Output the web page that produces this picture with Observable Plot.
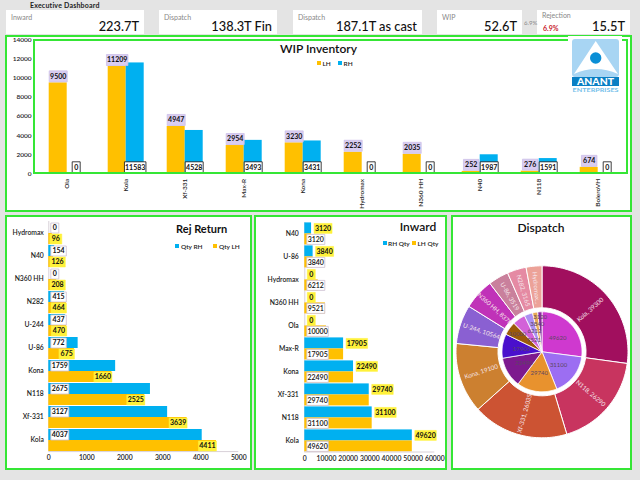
<!DOCTYPE html>
<html><head><meta charset="utf-8">
<style>
html,body{margin:0;padding:0;width:640px;height:480px;overflow:hidden;background:#e4e4e4;font-family:Lato,sans-serif;color:#111}
.abs{position:absolute;box-sizing:border-box}
.panel{background:#fff;border:2px solid #35e635}
.card{background:#fff}
.title{text-align:center;transform:translate(-50%,-50%);white-space:nowrap;font-weight:700;color:#111}
.leg{font-size:6.5px;white-space:nowrap;transform:translateY(-50%);color:#222;font-weight:600}
.sw{width:4px;height:4px}
svg{overflow:visible}
</style>
<script src="https://cdn.jsdelivr.net/npm/d3@7"></script>
<script src="https://cdn.jsdelivr.net/npm/@observablehq/plot@0.6"></script>
</head><body>
<script>
const FONT = "Lato, sans-serif";
const LH = "#ffc000", RH = "#00b0f0";

// KPI strip
const kpiLabels = ["Inward","Dispatch","Dispatch","WIP","Rejection"];
const kpiValues = ["223.7T","138.3T Fin","187.1T as cast","52.6T","15.5T"];
const rejectionPct = "6.9%";

// WIP Inventory
const wipNames = ["Ola","Kola","Xf-331","Max-R","Kona","Hydromax","N360 HH","N40","N118","BoleroVH"];
const wipLH = [9500,11209,4947,2954,3230,2252,2035,252,276,674];
const wipRH = [0,11583,4528,3493,3431,0,0,1987,1591,0];

// Rej Return
const rejNames = ["Hydromax","N40","N360 HH","N282","U-244","U-86","Kona","N118","Xf-331","Kola"];
const rejRH = [0,154,0,415,437,772,1759,2675,3127,4037];
const rejLH = [96,126,208,464,470,675,1660,2525,3639,4411];

// Inward
const inwNames = ["N40","U-86","Hydromax","N360 HH","Ola","Max-R","Kona","Xf-331","N118","Kola"];
const inwRH = [3120,3840,0,0,0,17905,22490,29740,31100,49620];
const inwLH = [3120,3840,6212,9521,10000,17905,22490,29740,31100,49620];

// Dispatch sunburst
const outerNames = ["Kola","N118","Xf-331","Kona","U-244","N360 HH","U-86","N282","Hydromax"];
const outerValues = [39300,26290,26035,19100,10564,8378,5519,5165,4300];
const outerLabels = ["Kola, 39300","N118, 26290","Xf-331, 26035","Kona, 19100","U-244, 10564","N360 HH, 8378","U-86, 3519","N282, 3165","Hydromax..."];
const outerColors = ["#a10f5e","#c8345f","#cc5333","#cc8030","#8a60d2","#c032b8","#c9809c","#e58aa3","#eca298"];
const innerValues = [49620,31100,29740,22490,17905,10000,9521,6212,3840,3120];
const innerColors = ["#cf39cf","#9c6ef2","#e8922e","#7d1a8e","#4a10cc","#9c5a08","#d262d8","#ab90f2","#e8aa55","#8a2aa0"];
const innerLabelRadius = [21,21,21,21,21,30,14,22,28,35];

function div(cls, x, y, w, h, css) {
  const d = document.createElement("div");
  d.className = "abs " + cls;
  d.style.left = x + "px"; d.style.top = y + "px";
  if (w != null) d.style.width = w + "px";
  if (h != null) d.style.height = h + "px";
  if (css) d.style.cssText += css;
  document.body.appendChild(d);
  return d;
}
function text(cls, x, y, s, css) { const d = div(cls, x, y, null, null, css); d.textContent = s; return d; }
function place(svg, x, y) {
  svg.style.position = "absolute"; svg.style.left = x + "px"; svg.style.top = y + "px";
  document.body.appendChild(svg);
}
const boxSymbol = (w, h) => ({draw(c){ c.moveTo(-w/2,-h/2); c.lineTo(w/2,-h/2); c.lineTo(w/2,h/2); c.lineTo(-w/2,h/2); c.closePath(); }});
const digitW = {1:8, 2:12, 3:15.5, 4:18, 5:21.5};
const widthOf = v => digitW[String(v).length];

// label: box + text, split by digit count so each box gets the right width
function labels(data, {x, y, fx, fy, dx = 0, dy = 0, h = 11, fill, stroke, sw = 0.8, font = 7, weight = 700, tfill = "#111"}) {
  const out = [];
  for (const [len, group] of d3.group(data, d => String(d.v).length)) {
    const w = digitW[len];
    const ddx = typeof dx === "function" ? dx(w) : dx;
    out.push(Plot.dot(group, {x, y, fx, fy, dx: ddx, dy, r: 1, symbol: boxSymbol(w, h), fill, stroke, strokeWidth: sw}));
    out.push(Plot.text(group, {x, y, fx, fy, dx: ddx, dy, text: d => String(d.v), fontSize: font, fontWeight: weight, fill: tfill}));
  }
  return out;
}

// Header
text("", 30, 0.5, "Executive Dashboard", "font-size:7px;font-weight:700;color:#222;letter-spacing:.2px");
const cardBoxes = [[6,144],[159,277],[293,422],[437,522],[537,630]];
cardBoxes.forEach(([a,b],i) => {
  div("card", a, 10, b-a, 23.5);
  text("", a+5, i===4 ? 10.5 : 13, kpiLabels[i], "font-size:7px;color:#888");
  text("", 0, 17.5, kpiValues[i], `left:auto;right:${640-b+5}px;font-size:12.8px;font-weight:500;color:#111;white-space:nowrap`);
});
text("", 524, 19, rejectionPct, "font-size:6px;color:#888");
text("", 543, 23.5, rejectionPct, "font-size:7px;font-weight:700;color:#c8202a");

// Panels
div("panel", 5, 35, 627, 176.5);
div("panel", 5, 214.5, 246.5, 255);
div("panel", 254, 214.5, 193, 255);
div("panel", 451, 214.5, 181, 255);

// WIP chart
const wipData = wipNames.flatMap((n,i)=>[{n,s:"LH",v:wipLH[i]},{n,s:"RH",v:wipRH[i]}]);
place(Plot.plot({
  width: 640, height: 177,
  marginLeft: 34.3, marginRight: 11.3, marginTop: 4.3, marginBottom: 38.7,
  style: {background:"transparent", font:`6.5px ${FONT}`, fontWeight:600, color:"#222"},
  fx: {domain: wipNames, padding: 0, label: null, tickRotate: -90, tickSize: 0, tickPadding: 5, axis: "bottom"},
  x: {domain: ["LH","RH"], axis: null, paddingInner: 0, paddingOuter: 0.6},
  y: {domain: [0,14000], ticks: d3.range(0,14001,2000), tickSize: 0, tickPadding: 6, label: null, tickFormat: d=>String(d)},
  color: {domain:["LH","RH"], range:[LH,RH]},
  marks: [
    Plot.barY(wipData, {fx:"n", x:"s", y:"v", fill:"s"}),
    ...labels(wipData.filter(d=>d.s==="LH"), {fx:"n", x:"s", y:"v", dy:-6.5, fill:"#d9cdf1", stroke:"#cbbfe8"}),
    ...labels(wipData.filter(d=>d.s==="RH"), {fx:"n", x:"s", y:()=>0, dy:-6.5, fill:"#fff", stroke:"#111"})
  ]
}), 0, 35);
div("", 33, 39, 595, 135, "border:2px solid #35e635;pointer-events:none");
text("title", 318.5, 47.5, "WIP Inventory", "font-size:12px;font-weight:600");
div("sw", 317, 61, null, null, "background:"+LH);
text("leg", 322.5, 63, "LH");
div("sw", 338, 61, null, null, "background:"+RH);
text("leg", 343.5, 63, "RH");

// Logo
const logo = div("", 568, 36, 54, 60, "background:#fff");
logo.innerHTML = `<svg width="54" height="60" viewBox="0 0 54 60" xmlns="http://www.w3.org/2000/svg">
<rect x="4" y="3" width="47" height="38" rx="3" fill="#a8d5f3"/>
<path d="M27.7 5 L50 38 Q27.7 28 6 38 Z" fill="#fff"/>
<circle cx="27.7" cy="22" r="5.7" fill="#0a8fd6"/>
<rect x="4" y="41" width="47" height="9" fill="#0a7fc4"/>
<text x="27.5" y="49" text-anchor="middle" font-size="9.5" font-weight="900" font-family="Lato" fill="#fff" textLength="37" lengthAdjust="spacingAndGlyphs">ANANT</text>
<text x="27.5" y="56" text-anchor="middle" font-size="5.6" font-weight="700" font-family="Lato" fill="#74c0ea" textLength="46" lengthAdjust="spacingAndGlyphs">ENTERPRISES</text>
</svg>`;

// Horizontal pair chart
function hbars({names, rh, lh, left, top, w, h, ml, mr, mt, mb, xMax, xStep, build, tickPad}) {
  const data = names.flatMap((n,i)=>[{n,s:"RH",v:rh[i]},{n,s:"LH",v:lh[i]}]);
  const baseRow = names[names.length-1];
  place(Plot.plot({
    width: w, height: h, marginLeft: ml, marginRight: mr, marginTop: mt, marginBottom: mb,
    style: {background:"transparent", font:`6.8px ${FONT}`, fontWeight:600, color:"#222"},
    fy: {domain: names, padding: 0, axis: "left", label: null, tickSize: 0, tickPadding: tickPad},
    y: {domain:["RH","LH"], axis: null, paddingInner: 0, paddingOuter: 0.015},
    x: {domain:[0,xMax], ticks: d3.range(0,xMax+1,xStep), tickSize: 0, tickPadding: 4, label: null, tickFormat: d=>String(d)},
    color: {domain:["RH","LH"], range:[RH,LH]},
    marks: [
      Plot.ruleX([0], {stroke:"#d8d0d8", strokeWidth:1}),
      Plot.barX(data, {fy:"n", y:"s", x:"v", fill:"s"}),
      Plot.ruleY([{n:baseRow,s:"LH"}], {fy:"n", y:"s", dy:5.6, x1:()=>0, x2:()=>xMax, stroke:"#d8d0d8", strokeWidth:1}),
      ...build(data)
    ]
  }), left, top);
}

// Rej Return
const rejPxPer = 190/5000;
hbars({names:rejNames, rh:rejRH, lh:rejLH, left:5, top:215, w:246, h:254, ml:43.3, mr:12.7, mt:5, mb:18, xMax:5000, xStep:1000, tickPad:5,
  build: data => [
    ...labels(data.filter(d=>d.s==="RH"), {fy:"n", y:"s", x:()=>0, dx:w=>2+w/2, h:10, fill:"#fff", stroke:"#cdbfd0"}),
    ...labels(data.filter(d=>d.s==="LH"), {fy:"n", y:"s",
      x:d=>Math.max(d.v, (widthOf(d.v)+1)/rejPxPer), dx:w=>-w/2, h:10, fill:"#fff13a", stroke:"#fff13a", sw:0.5})
  ]});
text("title", 201.7, 227.7, "Rej Return", "font-size:11px");
div("sw", 175, 244, null, null, "background:"+RH);
text("leg", 181, 246, "Qty RH");
div("sw", 213, 244, null, null, "background:"+LH);
text("leg", 219, 246, "Qty LH");

// Inward
hbars({names:inwNames, rh:inwRH, lh:inwLH, left:254, top:215, w:193, h:254, ml:50.3, mr:12.7, mt:5.6, mb:15.5, xMax:60000, xStep:10000, tickPad:6,
  build: data => [
    ...labels(data.filter(d=>d.s==="RH"), {fy:"n", y:"s", x:"v", dx:w=>2.5+w/2, h:10, fill:"#fff13a", stroke:"#fff13a", sw:0.5}),
    ...labels(data.filter(d=>d.s==="LH"), {fy:"n", y:"s", x:()=>0, dx:w=>2+w/2, h:10, fill:"#fff", stroke:"#cdbfd0", weight:600})
  ]});
text("title", 418, 226, "Inward", "font-size:12px;font-weight:600");
div("sw", 382.5, 241, null, null, "background:"+RH);
text("leg", 388, 243, "RH Qty");
div("sw", 412, 241, null, null, "background:"+LH);
text("leg", 417.5, 243, "LH Qty");

// Dispatch sunburst
function ring(values, colors, r0, r1, prefix) {
  const arcs = d3.pie().sort(null).value(d=>d)(values);
  const polys = [], labelsOut = [];
  arcs.forEach((a,i) => {
    const pts = [];
    const n = Math.max(2, Math.ceil((a.endAngle-a.startAngle)/0.03));
    const at = (r,t) => ({id:prefix+i, color:colors[i], x:r*Math.sin(t), y:-r*Math.cos(t)});
    for (let k=0;k<=n;k++) pts.push(at(r1, a.startAngle+(a.endAngle-a.startAngle)*k/n));
    if (r0>0) for (let k=n;k>=0;k--) pts.push(at(r0, a.startAngle+(a.endAngle-a.startAngle)*k/n));
    else pts.push(at(0,0));
    pts.push(pts[0]);
    polys.push(...pts);
    labelsOut.push({i, mid:(a.startAngle+a.endAngle)/2});
  });
  return {polys, mids:labelsOut};
}
const outerRing = ring(outerValues, outerColors, 44, 86, "o");
const innerRing = ring(innerValues, innerColors, 0, 40, "i");
const labelOuter = outerRing.mids.map(({i,mid})=>{
  const deg = mid*180/Math.PI;
  return {t:outerLabels[i], x:64*Math.sin(mid), y:-64*Math.cos(mid), rot: deg<180 ? deg-90 : deg-270};
});
const labelInner = innerRing.mids.map(({i,mid})=>({t:String(innerValues[i]), x:innerLabelRadius[i]*Math.sin(mid), y:-innerLabelRadius[i]*Math.cos(mid)}));
place(Plot.plot({
  width: 177, height: 250, margin: 0,
  style: {background:"transparent", font:`6.5px ${FONT}`},
  x: {domain:[-88.5,88.5], axis:null},
  y: {domain:[-113.3,136.7], axis:null, reverse:true},
  color: {type:"identity"},
  marks: [
    Plot.line(outerRing.polys, {x:"x", y:"y", z:"id", fill:"color", stroke:"#fff", strokeWidth:1, curve:"linear"}),
    Plot.line(innerRing.polys, {x:"x", y:"y", z:"id", fill:"color", stroke:"#fff", strokeWidth:0.8, curve:"linear"}),
    Plot.text(labelOuter, {x:"x", y:"y", text:"t", rotate:"rot", fill:"#f6e4ea", fontSize:6.2}),
    Plot.text(labelInner, {x:"x", y:"y", text:"t", fill:"#5c4662", fontSize:6})
  ]
}), 452.5, 238.4);
text("title", 541, 226.5, "Dispatch", "font-size:12px;font-weight:600");
</script>
</body></html>
